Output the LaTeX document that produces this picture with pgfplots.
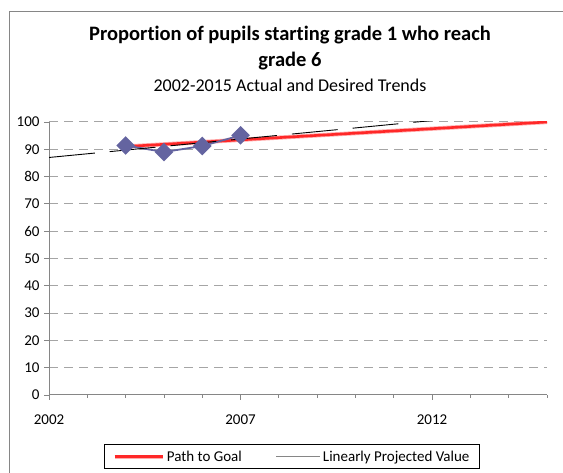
\documentclass[border=0pt]{standalone}
\usepackage{pgfplots}
\pgfplotsset{compat=1.18}
\usepackage{fontspec}
\setmainfont{Carlito}[Ligatures=NoCommon]
\definecolor{framegray}{RGB}{134,134,134}
\definecolor{gridgray}{RGB}{165,165,165}
\definecolor{actual}{RGB}{100,100,160}
\definecolor{goalred}{RGB}{255,40,40}
\definecolor{goalpink}{RGB}{255,170,170}
\begin{document}
\begin{tikzpicture}[x=1bp,y=1bp]
\useasboundingbox (0,0) rectangle (563,473);
\draw[framegray, line width=1bp] (9,-5) -- (9,461.5) -- (570,461.5);
\node[anchor=base, font=\fontsize{20.5bp}{22bp}\selectfont\bfseries] at (290,432) {Proportion of pupils starting grade 1 who reach};
\node[anchor=base, font=\fontsize{20.5bp}{22bp}\selectfont\bfseries] at (290,406) {grade 6};
\node[anchor=base, font=\fontsize{18bp}{20bp}\selectfont] at (290,381) {2002-2015 Actual and Desired Trends};
\begin{axis}[
  at={(49bp,78bp)}, anchor=origin,
  scale only axis, width=498bp, height=273bp,
  xmin=2002, xmax=2015, ymin=0, ymax=100,
  axis lines*=left,
  axis line style={framegray, line width=1bp},
  xtick={2002,2007,2012}, minor xtick={2003,2004,2005,2006,2008,2009,2010,2011,2013,2014,2015},
  xticklabels={2002,2007,2012},
  ytick={0,10,...,100},
  tick style={framegray, line width=0.8bp},
  major tick length=5bp, minor tick length=3bp,
  tick align=outside,
  minor tick style={/pgfplots/tick align=inside},
  ymajorgrids,
  major grid style={gridgray, line width=1bp, dash pattern=on 9bp off 6bp},
  /pgf/number format/assume math mode=true,
  /pgf/number format/1000 sep={},
  tick label style={font=\fontsize{15bp}{17bp}\selectfont},
  xticklabel style={yshift=-11bp},
  yticklabel style={xshift=-1bp},
  clip=true,
  legend columns=2,
  legend style={at={(0.488,-0.226)}, anchor=center, draw=black, line width=0.8bp,
    font=\fontsize{15bp}{17bp}\selectfont, inner xsep=8bp, inner ysep=4bp,
    /tikz/every even column/.append style={column sep=32bp}},
]
\addplot[goalred, line width=2.6bp, preaction={draw, goalpink, line width=4.2bp},
  legend image code/.code={\draw[goalpink, line width=4bp] (0bp,0bp) -- (48bp,0bp); \draw[goalred, line width=2.4bp] (0bp,0bp) -- (48bp,0bp);}] coordinates {(2004,91) (2015,100)};
\addlegendentry{Path to Goal}
\addplot[actual, line width=1.8bp, mark=square*, mark size=5.7bp, mark options={rotate=45, actual}, forget plot] coordinates {(2004,91.4) (2005,89.0) (2006,91.2) (2007,95.1)};
\addplot[black, line width=0.9bp, dash pattern=on 46bp off 15bp,
  legend image code/.code={\draw[framegray, line width=1.2bp, solid] (0bp,0bp) -- (44bp,0bp);}] coordinates {(2002,87.0) (2015,104.6)};
\addlegendentry{Linearly Projected Value}
\end{axis}
\end{tikzpicture}
\end{document}
